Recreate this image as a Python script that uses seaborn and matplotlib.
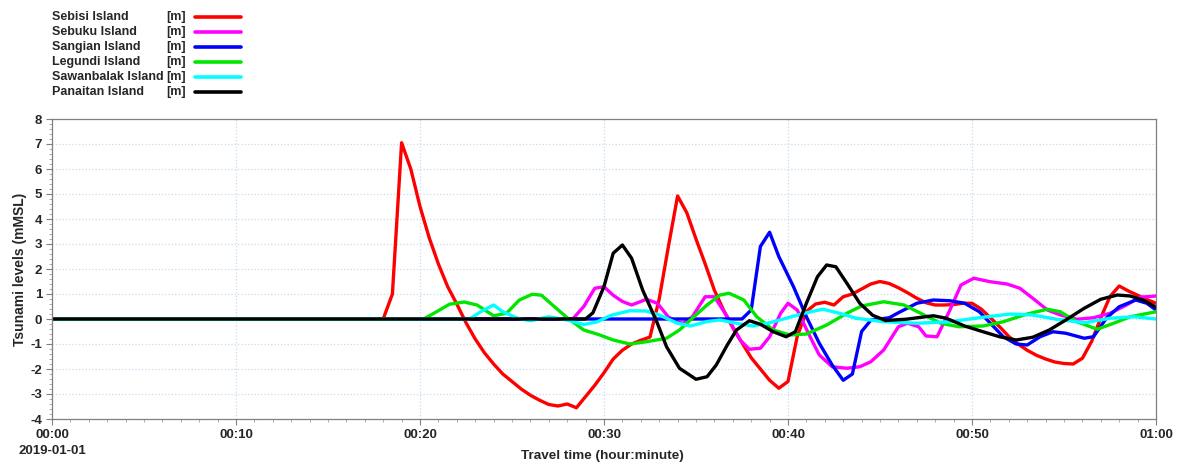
import pandas as pd
import matplotlib.pyplot as plt
import seaborn as sns
from matplotlib.ticker import MultipleLocator
from matplotlib.lines import Line2D

# --- data (minutes since 00:00, water level in mMSL) ---
islands = ["Sebisi Island", "Sebuku Island", "Sangian Island",
           "Legundi Island", "Sawanbalak Island", "Panaitan Island"]
colors = ["#ff0000", "#ff00ff", "#0000ff", "#00e600", "#00ffff", "#000000"]

sebisi_t = [0, 18.0, 18.5, 19.0, 19.5, 20.0, 20.5, 21.0, 21.5, 22.0, 22.5, 23.0, 23.5,
            24.0, 24.5, 25.0, 25.5, 26.0, 26.5, 27.0, 27.5, 28.0, 28.5, 29.0, 29.5,
            30.0, 30.5, 31.0, 31.5, 32.0, 32.5, 33.0, 33.5, 34.0, 34.5, 35.0, 35.5,
            36.0, 36.5, 37.0, 37.5, 38.0, 38.5, 39.0, 39.5, 40.0, 40.5, 41.0, 41.5,
            42.0, 42.5, 43.0, 43.5, 44.0, 44.5, 45.0, 45.5, 46.0, 46.5, 47.0, 47.5,
            48.0, 48.5, 49.0, 49.5, 50.0, 50.5, 51.0, 51.5, 52.0, 52.5, 53.0, 53.5,
            54.0, 54.5, 55.0, 55.5, 56.0, 56.5, 57.0, 57.5, 58.0, 58.5, 59.0, 59.5, 60.0]
sebisi_v = [0, 0, 1.0, 7.05, 6.0, 4.5, 3.25, 2.2, 1.3, 0.6, -0.15, -0.8, -1.35,
            -1.8, -2.2, -2.5, -2.8, -3.05, -3.25, -3.42, -3.48, -3.4, -3.55, -3.1, -2.65,
            -2.15, -1.6, -1.25, -1.0, -0.85, -0.72, 0.8, 2.9, 4.92, 4.25, 3.2, 2.2,
            1.15, 0.35, -0.35, -0.95, -1.55, -2.0, -2.45, -2.77, -2.5, -0.7, 0.3, 0.6,
            0.67, 0.56, 0.89, 1.0, 1.2, 1.4, 1.5, 1.42, 1.25, 1.05, 0.83, 0.65,
            0.56, 0.56, 0.58, 0.63, 0.63, 0.4, 0.05, -0.31, -0.7, -1.0, -1.25, -1.45,
            -1.6, -1.72, -1.78, -1.8, -1.57, -0.9, 0.05, 0.9, 1.32, 1.12, 0.95, 0.78, 0.63]

sebuku_t = [0, 28.3, 28.9, 29.5, 30.0, 30.5, 31.0, 31.5, 32.0, 32.3, 32.9, 33.5, 34.0,
            34.3, 34.8, 35.5, 36.0, 36.7, 37.4, 37.9, 38.5, 39.0, 39.6, 40.0, 40.5,
            41.2, 41.7, 42.4, 43.2, 43.9, 44.5, 45.2, 46.0, 46.5, 47.1, 47.5, 48.1,
            48.8, 49.4, 50.1, 51.0, 51.9, 52.6, 53.3, 54.1, 54.8, 55.7, 56.6, 57.5,
            58.4, 59.1, 60.0]
sebuku_v = [0, 0, 0.5, 1.23, 1.29, 0.95, 0.7, 0.56, 0.7, 0.79, 0.63, 0.08, -0.12,
            -0.17, 0.09, 0.89, 0.89, 0.09, -0.84, -1.21, -1.17, -0.71, 0.23, 0.63, 0.36,
            -0.71, -1.44, -1.91, -1.97, -1.91, -1.71, -1.24, -0.31, -0.17, -0.31, -0.68, -0.71,
            0.36, 1.36, 1.63, 1.49, 1.4, 1.23, 0.83, 0.36, 0.16, -0.01, 0.05, 0.23,
            0.56, 0.87, 0.92]

sangian_t = [0, 37.5, 38.0, 38.5, 39.0, 39.5, 40.3, 41.0, 41.7, 42.4, 43.0, 43.5, 44.0,
             44.5, 45.5, 46.0, 47.0, 47.9, 48.8, 49.6, 50.4, 51.0, 51.7, 52.4, 53.0,
             53.7, 54.4, 55.1, 56.1, 56.6, 57.3, 58.0, 58.9, 59.5, 60.0]
sangian_v = [0, 0, 0.36, 2.9, 3.47, 2.5, 1.29, 0.09, -0.97, -1.84, -2.45, -2.2, -0.5,
             -0.05, 0.05, 0.25, 0.63, 0.76, 0.73, 0.63, 0.29, -0.17, -0.71, -1.0, -1.04,
             -0.71, -0.51, -0.57, -0.77, -0.71, 0.03, 0.49, 0.76, 0.63, 0.36]

legundi_t = [0, 20.2, 20.9, 21.6, 22.4, 23.1, 24.0, 24.7, 25.4, 26.1, 26.6, 27.2, 28.0,
             28.9, 29.7, 30.5, 31.4, 32.3, 33.4, 34.1, 34.8, 35.6, 36.3, 36.8, 37.6,
             38.3, 39.2, 40.1, 41.0, 42.1, 43.2, 44.0, 45.2, 46.3, 47.4, 48.3, 49.3,
             50.6, 51.7, 53.0, 54.1, 54.8, 55.7, 56.8, 57.7, 58.6, 60.0]
legundi_v = [0, 0, 0.29, 0.59, 0.68, 0.56, 0.13, 0.23, 0.76, 0.99, 0.95, 0.56, 0.05,
             -0.44, -0.62, -0.84, -1.0, -0.91, -0.77, -0.44, 0.03, 0.56, 0.96, 1.03, 0.76,
             0.09, -0.44, -0.64, -0.6, -0.24, 0.23, 0.52, 0.69, 0.56, 0.16, -0.17, -0.31,
             -0.28, -0.11, 0.2, 0.39, 0.29, -0.11, -0.41, -0.17, 0.09, 0.29]

sawanbalak_t = [0, 22.7, 23.3, 24.0, 24.5, 25.3, 26.0, 27.0, 28.0, 28.9, 29.6, 30.4,
                31.4, 32.3, 33.0, 34.0, 34.7, 35.6, 36.3, 37.2, 38.1, 39.0, 39.9, 41.0,
                41.9, 42.8, 43.7, 45.2, 47.0, 48.8, 50.6, 52.1, 53.3, 54.6, 56.1, 57.5,
                58.8, 60.0]
sawanbalak_v = [0, 0, 0.29, 0.56, 0.29, 0.03, -0.07, 0.09, -0.04, -0.22, -0.12, 0.15,
                0.33, 0.32, 0.16, -0.17, -0.28, -0.1, -0.04, -0.17, -0.28, -0.15, 0.03, 0.25,
                0.39, 0.23, 0.03, -0.11, -0.17, -0.11, 0.07, 0.2, 0.16, -0.01, -0.15, 0.03,
                0.09, 0.0]

panaitan_t = [0, 29.0, 29.4, 30.0, 30.5, 31.0, 31.5, 32.1, 32.9, 33.4, 34.1, 35.0, 35.6,
              36.1, 36.7, 37.2, 37.9, 38.5, 39.2, 39.9, 40.4, 41.0, 41.6, 42.1, 42.6,
              43.2, 43.9, 44.6, 45.3, 46.4, 47.9, 48.6, 49.6, 50.6, 51.5, 52.4, 53.3,
              54.2, 55.1, 56.1, 57.0, 57.9, 58.6, 59.3, 60.0]
panaitan_v = [0, 0, 0.25, 1.3, 2.63, 2.96, 2.43, 1.16, -0.17, -1.11, -1.97, -2.41, -2.31,
              -1.84, -1.04, -0.44, -0.07, -0.21, -0.51, -0.71, -0.51, 0.63, 1.69, 2.16, 2.09,
              1.43, 0.63, 0.15, -0.06, -0.01, 0.13, 0.03, -0.28, -0.51, -0.71, -0.84, -0.73,
              -0.44, -0.04, 0.43, 0.79, 0.96, 0.92, 0.76, 0.47]

series_t = [sebisi_t, sebuku_t, sangian_t, legundi_t, sawanbalak_t, panaitan_t]
series_v = [sebisi_v, sebuku_v, sangian_v, legundi_v, sawanbalak_v, panaitan_v]

df = pd.concat(
    [pd.DataFrame({"minute": t, "level": v, "island": name})
     for name, t, v in zip(islands, series_t, series_v)],
    ignore_index=True,
)

sns.set_style("white")
plt.rcParams["font.family"] = ["Liberation Sans", "DejaVu Sans"]
plt.rcParams["font.weight"] = "bold"

fig = plt.figure(figsize=(11.82, 4.67), dpi=100)
ax = fig.add_axes([52 / 1182, 1 - 419 / 467, (1156 - 52) / 1182, 300 / 467])

sns.lineplot(data=df, x="minute", y="level", hue="island", hue_order=islands,
             palette=colors, estimator=None, sort=False, linewidth=2.4,
             legend=False, ax=ax)

ax.set_xlim(0, 60)
ax.set_ylim(-4, 8)
ax.xaxis.set_minor_locator(MultipleLocator(1))
ax.yaxis.set_minor_locator(MultipleLocator(0.2))
xlabels = ["00:00\n2019-01-01", "00:10", "00:20", "00:30", "00:40", "00:50", "01:00"]
ax.set_xticks(range(0, 61, 10))
ax.set_xticklabels(xlabels, fontsize=9.5, fontweight="bold", linespacing=1.5)
ax.set_yticks(range(-4, 9))
ax.set_yticklabels([str(v) for v in range(-4, 9)], fontsize=9.5, fontweight="bold")
ax.tick_params(which="major", direction="out", length=4, width=0.8, color="#808080",
               pad=3, left=True, bottom=True)
ax.tick_params(which="minor", direction="out", length=2, width=0.6, color="#a0a0a0",
               left=True, bottom=True)
ax.grid(which="major", color="#c6dcf2", linestyle=":", linewidth=0.9)
for side, sp in ax.spines.items():
    sp.set_color("#808080")
    sp.set_linewidth(0.9)
ax.set_xlabel("")
ax.set_ylabel("")

fig.text(20 / 1182, 1 - 269 / 467, "Tsunami levels (mMSL)", rotation=90,
         ha="center", va="center", fontsize=10, fontweight="bold")
fig.text(602 / 1182, 1 - 456 / 467, "Travel time (hour:minute)",
         ha="center", va="center", fontsize=9.7, fontweight="bold")

# --- legend block top-left ---
for i, (name, c) in enumerate(zip(islands, colors)):
    yy = 1 - (17 + 15 * i) / 467
    fig.text(52 / 1182, yy, name, ha="left", va="center", fontsize=9, fontweight="bold")
    fig.text(166 / 1182, yy, "[m]", ha="left", va="center", fontsize=9, fontweight="bold")
    fig.add_artist(Line2D([195 / 1182, 241 / 1182], [yy, yy], color=c, linewidth=2.6,
                          solid_capstyle="round", transform=fig.transFigure))

fig.savefig("out.png", dpi=100)
